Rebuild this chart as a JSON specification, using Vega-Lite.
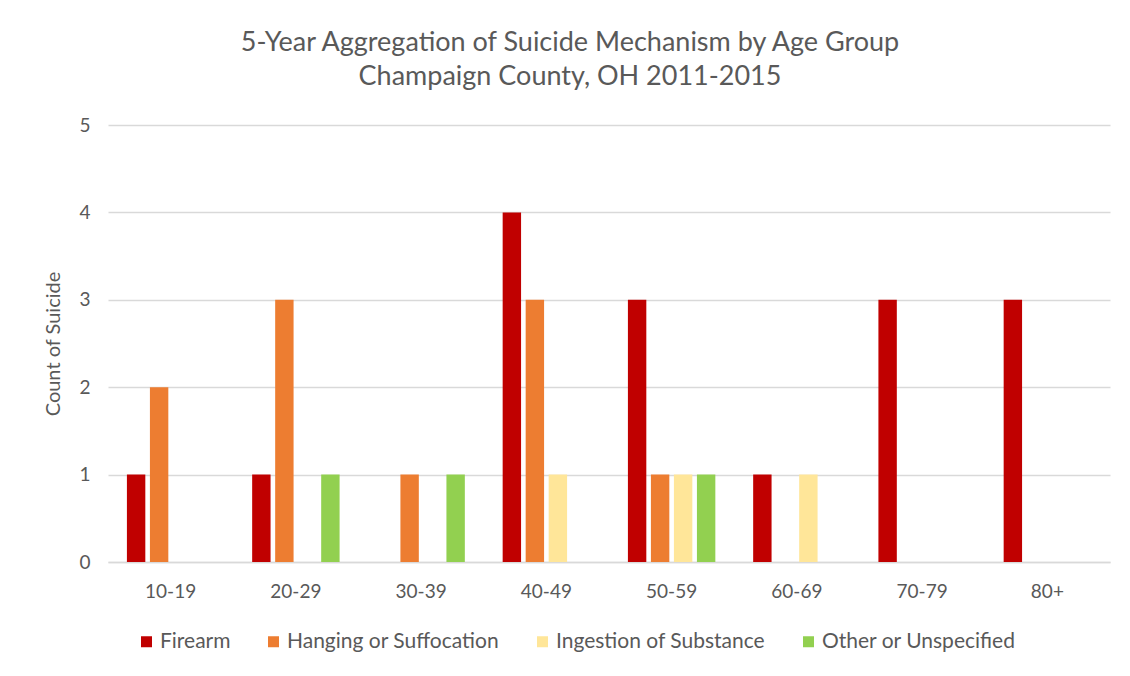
{
  "$schema": "https://vega.github.io/schema/vega-lite/v6.json",
  "autosize": {"type": "none"},
  "width": 1002,
  "height": 437,
  "padding": {"left": 108, "top": 125, "right": 20, "bottom": 114},
  "background": "white",
  "title": {
    "text": ["5-Year Aggregation of Suicide Mechanism by Age Group", "Champaign County, OH 2011-2015"],
    "font": "Lato",
    "fontSize": 27,
    "fontWeight": "normal",
    "color": "#595959",
    "lineHeight": 34,
    "anchor": "middle",
    "dx": -39,
    "offset": 25
  },
  "data": {
    "values": [
      {"age": "10-19", "mechanism": "Firearm", "count": 1},
      {"age": "10-19", "mechanism": "Hanging or Suffocation", "count": 2},
      {"age": "20-29", "mechanism": "Firearm", "count": 1},
      {"age": "20-29", "mechanism": "Hanging or Suffocation", "count": 3},
      {"age": "20-29", "mechanism": "Other or Unspecified", "count": 1},
      {"age": "30-39", "mechanism": "Hanging or Suffocation", "count": 1},
      {"age": "30-39", "mechanism": "Other or Unspecified", "count": 1},
      {"age": "40-49", "mechanism": "Firearm", "count": 4},
      {"age": "40-49", "mechanism": "Hanging or Suffocation", "count": 3},
      {"age": "40-49", "mechanism": "Ingestion of Substance", "count": 1},
      {"age": "50-59", "mechanism": "Firearm", "count": 3},
      {"age": "50-59", "mechanism": "Hanging or Suffocation", "count": 1},
      {"age": "50-59", "mechanism": "Ingestion of Substance", "count": 1},
      {"age": "50-59", "mechanism": "Other or Unspecified", "count": 1},
      {"age": "60-69", "mechanism": "Firearm", "count": 1},
      {"age": "60-69", "mechanism": "Ingestion of Substance", "count": 1},
      {"age": "70-79", "mechanism": "Firearm", "count": 3},
      {"age": "80+", "mechanism": "Firearm", "count": 3}
    ]
  },
  "mark": {"type": "bar"},
  "encoding": {
    "x": {
      "field": "age",
      "type": "nominal",
      "sort": ["10-19", "20-29", "30-39", "40-49", "50-59", "60-69", "70-79", "80+"],
      "scale": {"domain": ["10-19", "20-29", "30-39", "40-49", "50-59", "60-69", "70-79", "80+"], "paddingInner": 0.302, "paddingOuter": 0.151},
      "axis": {
        "title": null,
        "labelAngle": 0,
        "labelFont": "Lato",
        "labelFontSize": 19,
        "labelColor": "#595959",
        "labelPadding": 20,
        "ticks": false,
        "domainColor": "#D9D9D9",
        "domainWidth": 1.5
      }
    },
    "xOffset": {
      "field": "mechanism",
      "type": "nominal",
      "scale": {"domain": ["Firearm", "Hanging or Suffocation", "Ingestion of Substance", "Other or Unspecified"], "paddingInner": 0.2, "paddingOuter": 0}
    },
    "y": {
      "field": "count",
      "type": "quantitative",
      "scale": {"domain": [0, 5], "nice": false},
      "axis": {
        "title": "Count of Suicide",
        "titleFont": "Lato",
        "titleFontSize": 20,
        "titleFontWeight": "normal",
        "titleColor": "#595959",
        "titlePadding": 15,
        "labelFont": "Lato",
        "labelFontSize": 19,
        "labelColor": "#595959",
        "labelPadding": 18,
        "labelOverlap": false,
        "values": [0, 1, 2, 3, 4, 5],
        "ticks": false,
        "domain": false,
        "grid": true,
        "gridColor": "#D9D9D9",
        "gridWidth": 1.5
      }
    },
    "color": {
      "field": "mechanism",
      "type": "nominal",
      "scale": {
        "domain": ["Firearm", "Hanging or Suffocation", "Ingestion of Substance", "Other or Unspecified"],
        "range": ["#C00000", "#ED7D31", "#FFE699", "#92D050"]
      },
      "legend": {
        "title": null,
        "orient": "none",
        "direction": "horizontal",
        "legendX": 28,
        "legendY": 506,
        "symbolType": "square",
        "symbolSize": 121,
        "symbolStrokeWidth": 0,
        "symbolOpacity": 1,
        "labelFont": "Lato",
        "labelFontSize": 21,
        "labelColor": "#595959",
        "labelOffset": 3,
        "labelLimit": 400,
        "columnPadding": 32
      }
    }
  },
  "config": {
    "view": {"stroke": null}
  }
}
